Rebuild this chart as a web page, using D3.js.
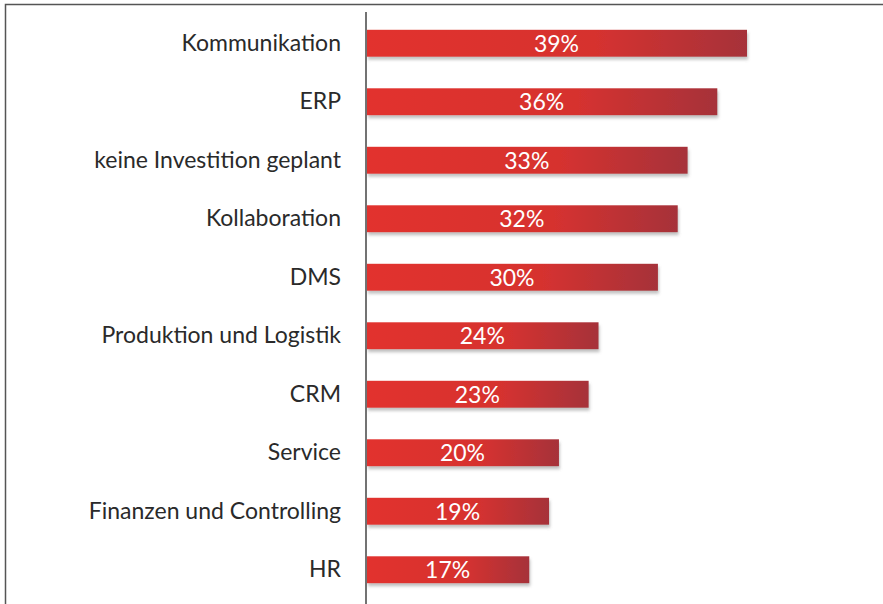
<!DOCTYPE html>
<html>
<head>
<meta charset="utf-8">
<script src="https://cdn.jsdelivr.net/npm/d3@7"></script>
<style>
  body { margin: 0; background: #fff; }
  svg { display: block; }
</style>
</head>
<body>
<svg id="chart"></svg>
<script>
const categories = ['Kommunikation', 'ERP', 'keine Investition geplant', 'Kollaboration', 'DMS',
  'Produktion und Logistik', 'CRM', 'Service', 'Finanzen und Controlling', 'HR'];
const values = [39, 36, 33, 32, 30, 24, 23, 20, 19, 17];

const width = 883, height = 604;
const marginLeft = 366, marginTop = 14;
const fontFamily = 'Lato, "Open Sans", sans-serif';

const svg = d3.select('#chart')
  .attr('width', width)
  .attr('height', height)
  .attr('viewBox', [0, 0, width, height]);

// frame of the scanned page
svg.append('path')
  .attr('d', `M5.5,${height} V4.5 H${width}`)
  .attr('fill', 'none')
  .attr('stroke', '#555')
  .attr('stroke-width', 1.5);

// bars start at the axis line, the scale zero sits a little left of it (as in the scan)
const x = d3.scaleLinear().domain([0, 39]).range([361, 747]);
const y = d3.scaleBand().domain(categories).range([marginTop, marginTop + 58.5 * 10]).paddingInner(0.54).paddingOuter(0.27);

const defs = svg.append('defs');
const grad = defs.append('linearGradient').attr('id', 'barGrad').attr('x1', 0).attr('x2', 1).attr('y1', 0).attr('y2', 0);
grad.append('stop').attr('offset', '0%').attr('stop-color', '#e2302e');
grad.append('stop').attr('offset', '60%').attr('stop-color', '#d6302f');
grad.append('stop').attr('offset', '100%').attr('stop-color', '#a6323a');

const shadow = defs.append('filter').attr('id', 'shadow').attr('x', '-5%').attr('y', '-20%').attr('width', '110%').attr('height', '160%');
shadow.append('feDropShadow').attr('dx', 1).attr('dy', 3).attr('stdDeviation', 1.5).attr('flood-color', '#777').attr('flood-opacity', 0.45);

/** BARS **/
svg.append('g').selectAll('rect')
  .data(values)
  .join('rect')
  .attr('x', marginLeft + 1)
  .attr('y', (d, i) => y(categories[i]))
  .attr('width', (d) => x(d) - marginLeft - 1)
  .attr('height', y.bandwidth())
  .attr('fill', 'url(#barGrad)')
  .attr('filter', 'url(#shadow)');

svg.append('g').selectAll('text')
  .data(values)
  .join('text')
  .attr('x', (d) => (marginLeft + x(d)) / 2)
  .attr('y', (d, i) => y(categories[i]) + y.bandwidth() / 2)
  .attr('dy', '0.36em')
  .attr('text-anchor', 'middle')
  .attr('fill', '#fff')
  .style('font-family', fontFamily)
  .style('font-size', '23px')
  .text((d) => d + '%');

/** AXIS **/
const axis = svg.append('g')
  .attr('transform', `translate(${marginLeft},0)`)
  .call(d3.axisLeft(y).tickSize(0).tickPadding(25));
axis.select('.domain').attr('d', `M0,12V${height}`).attr('stroke', '#444').attr('stroke-width', 1.5);
axis.selectAll('text')
  .attr('fill', '#2a2a2a')
  .style('font-family', fontFamily)
  .style('font-size', '23px');
</script>
</body>
</html>
